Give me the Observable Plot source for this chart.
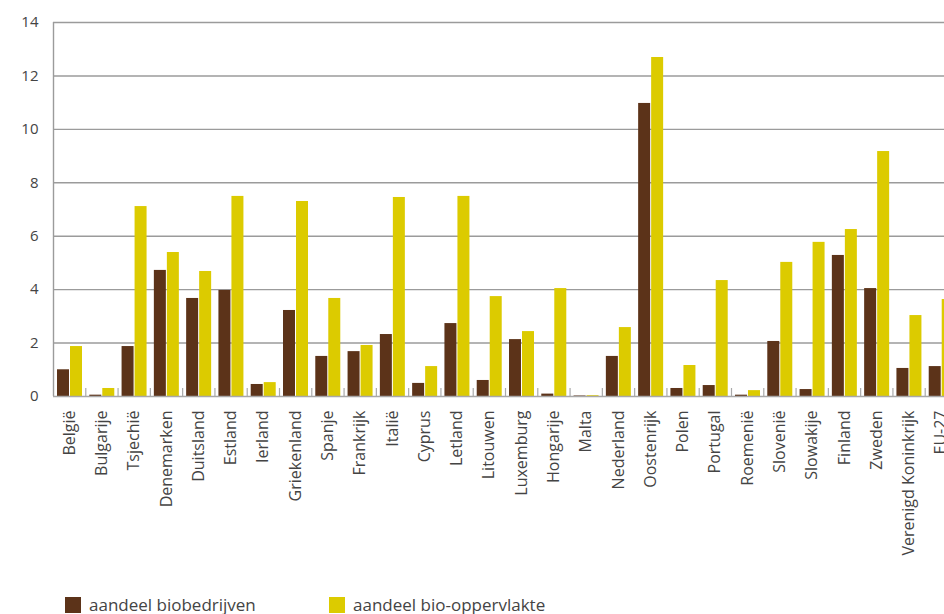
<!DOCTYPE html>
<html><head><meta charset="utf-8">
<script src="https://cdn.jsdelivr.net/npm/d3@7"></script>
<script src="https://cdn.jsdelivr.net/npm/@observablehq/plot@0.6"></script>
<style>
body{margin:0;background:#fff;overflow:hidden;}
#wrap{position:relative;width:944px;height:614px;overflow:hidden;background:#fff;}
#chart{position:absolute;left:0;top:0;width:960px;}
#chart svg{max-width:none;}
.lg{position:absolute;top:597px;height:16px;font-family:"Open Sans",sans-serif;font-size:17px;color:#444;line-height:16px;display:flex;align-items:center;white-space:nowrap;}
.sw{width:16px;height:16px;margin-right:8px;flex:none;}
</style></head><body>
<div id="wrap"><div id="chart"></div>
<div class="lg" style="left:65px"><span class="sw" style="background:#5c3319"></span>aandeel biobedrijven</div>
<div class="lg" style="left:329px"><span class="sw" style="background:#dccb00"></span>aandeel bio-oppervlakte</div>
</div>
<script>
const countries = ["België","Bulgarije","Tsjechië","Denemarken","Duitsland","Estland","Ierland","Griekenland","Spanje","Frankrijk","Italië","Cyprus","Letland","Litouwen","Luxemburg","Hongarije","Malta","Nederland","Oostenrijk","Polen","Portugal","Roemenië","Slovenië","Slowakije","Finland","Zweden","Verenigd Koninkrijk","EU-27"];
const biobedrijven = [1.0,0.05,1.87,4.72,3.67,3.97,0.45,3.22,1.5,1.68,2.32,0.49,2.73,0.6,2.13,0.09,0.02,1.5,10.97,0.3,0.41,0.05,2.06,0.26,5.28,4.04,1.05,1.12];
const bioOppervlakte = [1.87,0.3,7.11,5.39,4.68,7.49,0.52,7.3,3.67,1.91,7.45,1.12,7.49,3.74,2.43,4.04,0.03,2.58,12.69,1.16,4.34,0.22,5.02,5.77,6.25,9.17,3.03,3.63];
const yTicks = [0,2,4,6,8,10,12,14];

const data = countries.map((c, i) => ({country: c, bedrijven: biobedrijven[i], opp: bioOppervlakte[i]}));
const step = 904 / 28;

const chart = Plot.plot({
  width: 960, height: 590,
  marginLeft: 53, marginRight: 3, marginTop: 22, marginBottom: 194,
  style: {fontFamily: "Open Sans", color: "#444", background: "white", maxWidth: "none"},
  x: {domain: countries, padding: 0, round: false, label: null},
  y: {domain: [0, 14], label: null},
  marks: [
    Plot.ruleY(yTicks.slice(1), {stroke: "#9b9b9b", strokeWidth: 1.4}),
    Plot.barY(data, {x: "country", y: "bedrijven", fill: "#5c3319", insetLeft: 4, insetRight: step - 16}),
    Plot.barY(data, {x: "country", y: "opp", fill: "#dccb00", insetLeft: 17, insetRight: step - 29}),
    Plot.ruleX(countries, {x: d => d, dx: step / 2, y1: 0, y2: 0.3, stroke: "#aaa", strokeWidth: 1.2}),
    Plot.ruleX([countries[0]], {x: d => d, dx: -step / 2, y1: 0, y2: 14, stroke: "#9b9b9b", strokeWidth: 1.4}),
    Plot.ruleY([0], {stroke: "#a8a8a8", strokeWidth: 1.6}),
    Plot.axisY({ticks: yTicks, tickSize: 0, tickPadding: 15, fontSize: 15, label: null}),
    Plot.axisX({tickSize: 0, tickPadding: 14, tickRotate: -90, fontSize: 16, label: null})
  ]
});
document.getElementById("chart").appendChild(chart);
</script>
</body></html>
